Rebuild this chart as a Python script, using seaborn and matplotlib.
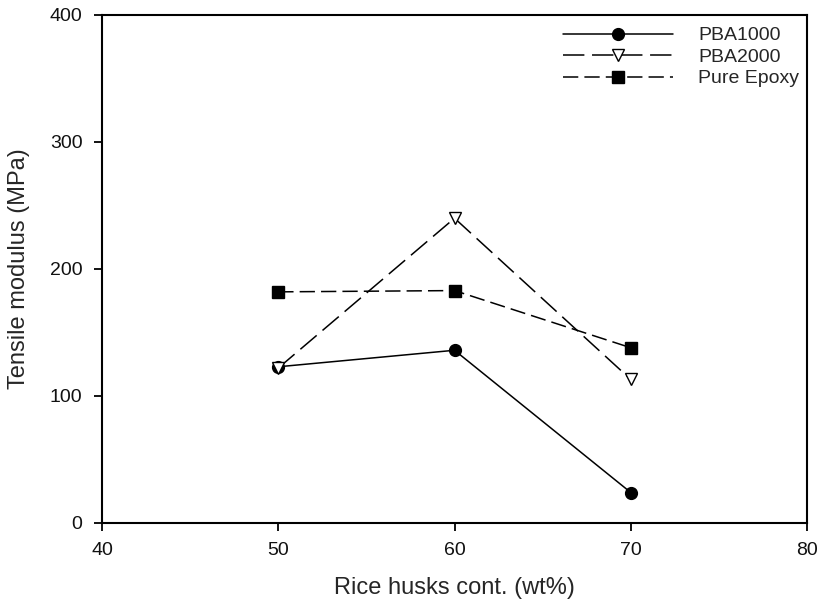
import matplotlib
matplotlib.use("Agg")
import matplotlib.pyplot as plt
import seaborn as sns
import pandas as pd

rice_husks = [50, 60, 70]
pba1000 = [123, 136, 24]
pba2000 = [122, 240, 113]
pure_epoxy = [182, 183, 138]
x_ticks = [40, 50, 60, 70, 80]
y_ticks = [0, 100, 200, 300, 400]

sns.set_theme(style="ticks")
plt.rcParams['font.family'] = ['Liberation Sans', 'DejaVu Sans']

fig = plt.figure(figsize=(8.18, 6.07), dpi=100)
ax = fig.add_axes([0.1247, 0.1384, 0.8619, 0.8369])

series = [
    ("PBA1000", pba1000, dict(marker="o", markersize=8.5, markerfacecolor="black", dashes=None)),
    ("PBA2000", pba2000, dict(marker="v", markersize=9, markerfacecolor="white", dashes=(14, 5))),
    ("Pure Epoxy", pure_epoxy, dict(marker="s", markersize=8.5, markerfacecolor="black", dashes=(10, 4))),
]
for name, vals, st in series:
    df = pd.DataFrame({"x": rice_husks, "y": vals})
    kw = dict(color="black", linewidth=1.1, marker=st["marker"], markersize=st["markersize"],
              markerfacecolor=st["markerfacecolor"], markeredgecolor="black",
              markeredgewidth=1.0, label=name)
    if st["dashes"] is not None:
        kw["dashes"] = st["dashes"]
    sns.lineplot(data=df, x="x", y="y", ax=ax, **kw)

ax.set_xlim(40, 80)
ax.set_ylim(0, 400)
ax.set_xticks(x_ticks)
ax.set_yticks(y_ticks)
ax.set_xlabel("Rice husks cont. (wt%)", fontsize=17, labelpad=13)
ax.set_ylabel("Tensile modulus (MPa)", fontsize=17, labelpad=14)
ax.tick_params(axis="both", direction="out", length=6, width=1.3, labelsize=14,
               color="black", labelcolor="#111111", pad=8)
for s in ax.spines.values():
    s.set_linewidth(1.5)
    s.set_color("black")

leg = ax.legend(loc="upper right", frameon=False, fontsize=14, handlelength=5.65,
                handletextpad=1.3, bbox_to_anchor=(1.0, 0.992), borderaxespad=0.0,
                labelspacing=0.2)

fig.savefig("out.png", dpi=100)
